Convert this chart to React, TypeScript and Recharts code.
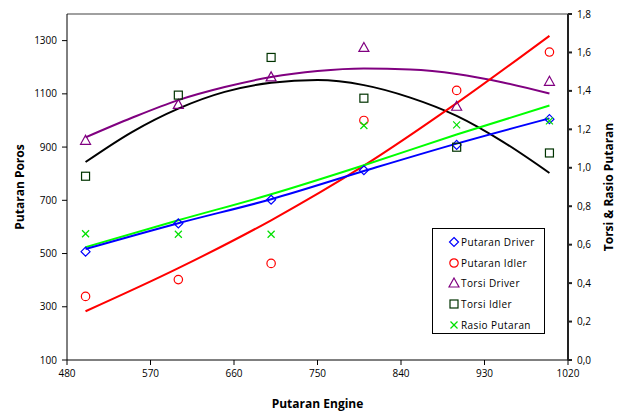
import { ComposedChart, Label, Line, ReferenceLine, Scatter, XAxis, YAxis } from 'recharts'

// engine speed where the measurements were taken
const engineRpm = [500, 600, 700, 800, 900, 1000]
const putaranDriver = [507, 613, 702, 813, 908, 1005]
const putaranIdler = [339, 402, 463, 1000, 1113, 1257]
const torsiDriver = [1.143, 1.33, 1.473, 1.626, 1.32, 1.45]
const torsiIdler = [0.956, 1.378, 1.574, 1.362, 1.107, 1.077]
const rasioPutaran = [0.657, 0.654, 0.654, 1.22, 1.223, 1.244]

// trendlines
const trendRpm = [500, 550, 600, 650, 700, 750, 800, 850, 900, 950, 1000]
const trendTorsiDriver = [1.158, 1.26, 1.352, 1.42, 1.472, 1.503, 1.516, 1.511, 1.488, 1.444, 1.386]
const trendTorsiIdler = [1.03, 1.186, 1.308, 1.395, 1.442, 1.456, 1.43, 1.365, 1.27, 1.135, 0.973]
const trendPutaranDriver = [517, 614, 704, 810, 913, 1008]
const trendPutaranIdler = [283, 445, 625, 830, 1065, 1318]
const trendRasio = [0.587, 0.727, 0.862, 1.013, 1.173, 1.324]

const xTicks = [480, 570, 660, 750, 840, 930, 1020]
const leftTicks = [100, 300, 500, 700, 900, 1100, 1300]
const rightTicks = [0, 0.2, 0.4, 0.6, 0.8, 1.0, 1.2, 1.4, 1.6, 1.8]

const toPoints = (xs: number[], ys: number[]) => xs.map((x, i) => ({ x, y: ys[i] }))

type Kind = 'diamond' | 'circle' | 'triangle' | 'square' | 'x'

const Marker = ({ cx, cy, kind, color }: { cx: number; cy: number; kind: Kind; color: string }) => {
  if (cx == null || cy == null) return null
  const sw = 1.2
  if (kind === 'diamond')
    return <polygon points={`${cx},${cy - 4.5} ${cx + 4.5},${cy} ${cx},${cy + 4.5} ${cx - 4.5},${cy}`} fill="none" stroke={color} strokeWidth={sw} />
  if (kind === 'circle') return <circle cx={cx} cy={cy} r={4.2} fill="none" stroke={color} strokeWidth={sw} />
  if (kind === 'triangle')
    return <polygon points={`${cx},${cy - 5} ${cx + 5},${cy + 4} ${cx - 5},${cy + 4}`} fill="none" stroke={color} strokeWidth={sw} />
  if (kind === 'square') return <rect x={cx - 4} y={cy - 4} width={8} height={8} fill="none" stroke={color} strokeWidth={sw} />
  return (
    <g stroke={color} strokeWidth={sw}>
      <line x1={cx - 3.5} y1={cy - 3.5} x2={cx + 3.5} y2={cy + 3.5} />
      <line x1={cx - 3.5} y1={cy + 3.5} x2={cx + 3.5} y2={cy - 3.5} />
    </g>
  )
}

const legendItems: { name: string; kind: Kind; color: string }[] = [
  { name: 'Putaran Driver', kind: 'diamond', color: '#0000ff' },
  { name: 'Putaran Idler', kind: 'circle', color: '#ff0000' },
  { name: 'Torsi Driver', kind: 'triangle', color: '#800080' },
  { name: 'Torsi Idler', kind: 'square', color: '#003300' },
  { name: 'Rasio Putaran', kind: 'x', color: '#00e000' },
]

const font = "'Open Sans', sans-serif"
const tickStyle = { fill: '#000', fontSize: 10, fontFamily: font }
const titleStyle = { fill: '#000', fontSize: 12, fontWeight: 700, fontFamily: font, textAnchor: 'middle' as const }

export default function App() {
  return (
    <div style={{ position: 'absolute', left: 0, top: 0, width: 618, height: 412, background: '#fff' }}>
      <ComposedChart width={618} height={412} margin={{ top: 14, right: 0, bottom: 0, left: 0 }}>
        <XAxis
          type="number"
          dataKey="x"
          domain={[480, 1020]}
          ticks={xTicks}
          allowDataOverflow
          height={52}
          tick={tickStyle}
          tickSize={5}
          tickMargin={5}
          stroke="#000"
        >
          <Label value="Putaran Engine" position="insideBottom" offset={4} style={titleStyle} />
        </XAxis>
        <YAxis
          yAxisId="left"
          type="number"
          domain={[100, 1400]}
          ticks={leftTicks}
          allowDataOverflow
          width={67}
          tick={tickStyle}
          tickSize={5}
          tickMargin={5}
          stroke="#000"
        >
          <Label value="Putaran Poros" angle={-90} position="insideLeft" offset={20} style={titleStyle} />
        </YAxis>
        <YAxis
          yAxisId="right"
          orientation="right"
          type="number"
          domain={[0, 1.8]}
          ticks={rightTicks}
          allowDataOverflow
          width={50}
          tick={tickStyle}
          tickFormatter={(v: number) => v.toFixed(1).replace('.', ',')}
          tickSize={4}
          tickMargin={5}
          stroke="#222"
          strokeWidth={2}
        >
          <Label value="Torsi & Rasio Putaran" angle={-90} position="insideRight" offset={9} style={titleStyle} />
        </YAxis>
        <ReferenceLine yAxisId="left" y={1400} stroke="#808080" strokeWidth={1.5} />

        <Line yAxisId="right" data={toPoints(trendRpm, trendTorsiDriver)} dataKey="y" type="monotone" stroke="#800080" strokeWidth={2} dot={false} isAnimationActive={false} />
        <Line yAxisId="right" data={toPoints(trendRpm, trendTorsiIdler)} dataKey="y" type="monotone" stroke="#000" strokeWidth={2} dot={false} isAnimationActive={false} />
        <Line yAxisId="left" data={toPoints(engineRpm, trendPutaranIdler)} dataKey="y" type="monotone" stroke="#ff0000" strokeWidth={2} dot={false} isAnimationActive={false} />
        <Line yAxisId="right" data={toPoints(engineRpm, trendRasio)} dataKey="y" type="monotone" stroke="#00ff00" strokeWidth={2} dot={false} isAnimationActive={false} />
        <Line yAxisId="left" data={toPoints(engineRpm, trendPutaranDriver)} dataKey="y" type="monotone" stroke="#0000ff" strokeWidth={2} dot={false} isAnimationActive={false} />

        <Scatter yAxisId="left" data={toPoints(engineRpm, putaranDriver)} dataKey="y" isAnimationActive={false}
          shape={(p: any) => <Marker cx={p.cx} cy={p.cy} kind="diamond" color="#0000ff" />} />
        <Scatter yAxisId="left" data={toPoints(engineRpm, putaranIdler)} dataKey="y" isAnimationActive={false}
          shape={(p: any) => <Marker cx={p.cx} cy={p.cy} kind="circle" color="#ff0000" />} />
        <Scatter yAxisId="right" data={toPoints(engineRpm, torsiDriver)} dataKey="y" isAnimationActive={false}
          shape={(p: any) => <Marker cx={p.cx} cy={p.cy} kind="triangle" color="#800080" />} />
        <Scatter yAxisId="right" data={toPoints(engineRpm, torsiIdler)} dataKey="y" isAnimationActive={false}
          shape={(p: any) => <Marker cx={p.cx} cy={p.cy} kind="square" color="#003300" />} />
        <Scatter yAxisId="right" data={toPoints(engineRpm, rasioPutaran)} dataKey="y" isAnimationActive={false}
          shape={(p: any) => <Marker cx={p.cx} cy={p.cy} kind="x" color="#00e000" />} />
      </ComposedChart>

      <div
        style={{
          position: 'absolute',
          left: 432,
          top: 228,
          width: 113,
          height: 106,
          border: '1px solid #000',
          background: '#fff',
          boxSizing: 'border-box',
          paddingTop: 3,
          fontFamily: font,
          fontSize: 10,
          letterSpacing: 0.4,
        }}
      >
        {legendItems.map((item) => (
          <div key={item.name} style={{ display: 'flex', alignItems: 'center', height: 20.6 }}>
            <svg width={12} height={12} style={{ marginLeft: 15 }}>
              <Marker cx={6} cy={6} kind={item.kind} color={item.color} />
            </svg>
            <span style={{ marginLeft: 1 }}>{item.name}</span>
          </div>
        ))}
      </div>
    </div>
  )
}
